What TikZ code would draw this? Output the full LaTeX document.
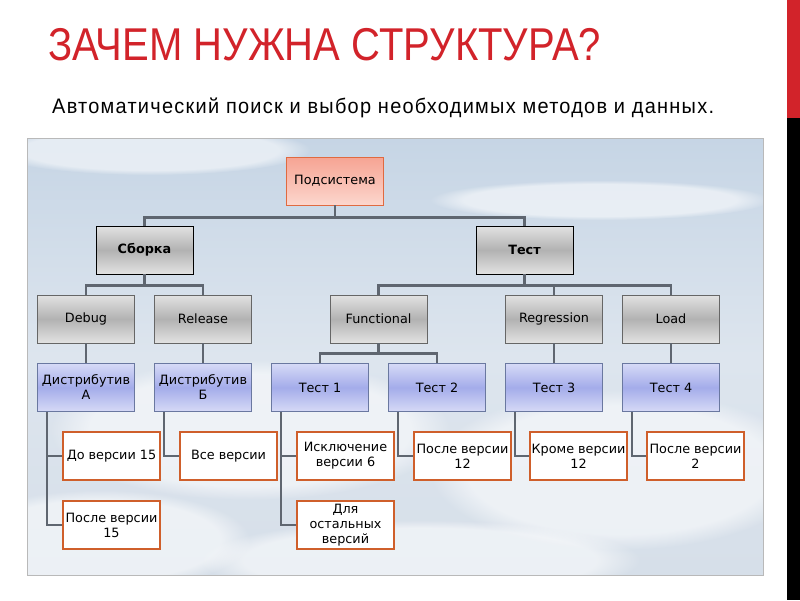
\documentclass[tikz,border=0pt]{standalone}
\usepackage{fontspec}
\setmainfont{Liberation Sans}
\newfontfamily\boxfont{DejaVu Sans}
\newfontfamily\titlefont[FakeStretch=0.87]{Liberation Sans}
\newfontfamily\subfont[FakeStretch=0.95,LetterSpace=6]{Liberation Sans}
\usetikzlibrary{fadings}
\definecolor{titlered}{HTML}{D2232A}
\definecolor{connline}{HTML}{5F6670}
\definecolor{grayhi}{HTML}{E2E2E2}
\definecolor{graylo}{HTML}{B2B2B2}
\definecolor{bluehi}{HTML}{D6DAF6}
\definecolor{bluelo}{HTML}{A4ACEA}
\definecolor{blueline}{HTML}{6A78A0}
\definecolor{pinkhi}{HTML}{F6A493}
\definecolor{pinklo}{HTML}{FCD6CD}
\definecolor{pinkline}{HTML}{E06A40}
\definecolor{leafline}{HTML}{CF5F2B}
\definecolor{skytop}{HTML}{C6D5E5}
\definecolor{skymid}{HTML}{DDE5EE}
\definecolor{skybot}{HTML}{D6DFE9}
\begin{document}
\begin{tikzpicture}[x=1pt,y=-1pt,
    box/.style={minimum width=97pt, minimum height=48pt, inner sep=1pt, align=center,
      font=\boxfont\fontsize{12.8}{15}\selectfont},
    sysbox/.style={box, draw=pinkline, line width=0.8pt, top color=pinkhi, bottom color=pinklo},
    partbox/.style={box, draw=black, line width=0.9pt, top color=grayhi, bottom color=grayhi,
      middle color=graylo, font=\boxfont\bfseries\fontsize{12.8}{15}\selectfont},
    kindbox/.style={box, draw=gray!80!black, line width=0.7pt, top color=grayhi, bottom color=grayhi,
      middle color=graylo},
    itembox/.style={box, draw=blueline, line width=0.7pt, top color=bluehi, bottom color=bluehi,
      middle color=bluelo},
    leafbox/.style={box, draw=leafline, line width=2.5pt, fill=white},
    conn/.style={draw=connline, line width=2.5pt}]
  \useasboundingbox (0,0) rectangle (800,600);
  \fill[white] (0,0) rectangle (800,600);
  % sky
  \fill[top color=skytop, bottom color=skybot, middle color=skymid] (27,138) rectangle (763,575);
  \begin{scope}
    \clip (27,138) rectangle (763,575);
    \foreach \cx/\cy/\rx/\ry in {150/150/160/25, 600/200/170/20, 250/430/200/70, 620/470/190/80, 100/540/150/50, 420/560/220/40}
      \fill[white, opacity=0.55, path fading=circle with fuzzy edge 20 percent] (\cx,\cy) ellipse [x radius=\rx, y radius=\ry];
  \end{scope}
  \draw[gray!55, line width=0.8pt] (27,138) rectangle (763,575);
  % side bar
  \fill[titlered] (787,0) rectangle (800,118);
  \fill[black] (787,118) rectangle (800,600);
  % title
  \node[anchor=base west, inner sep=0, text=titlered, font=\titlefont\fontsize{46}{46}\selectfont] (title) at (48,60) {ЗАЧЕМ НУЖНА СТРУКТУРА?};
  \node[anchor=base west, inner sep=0, font=\subfont\fontsize{21}{21}\selectfont] (subtitle) at (52,113) {Автоматический поиск и выбор необходимых методов и данных.};
  % tree
  \node[sysbox] (sys) at (335,181) {Подсистема};
  \node[partbox] (build) at (144.5,250) {Сборка};
  \node[partbox] (test) at (524.5,250) {Тест};
  \foreach \n/\x/\t in {debug/86/Debug, release/203/Release, func/378.5/Functional, regr/554/Regression, load/671/Load}
    \node[kindbox] (\n) at (\x,319) {\t};
  \foreach \n/\x/\t in {distA/86/Дистрибутив\\А, distB/203/Дистрибутив\\Б, t1/320/Тест 1, t2/437/Тест 2, t3/554/Тест 3, t4/671/Тест 4}
    \node[itembox] (\n) at (\x,387.5) {\t};
  \foreach \n/\x/\y/\t in {v1/111.5/456/До версии 15, v2/111.5/525/После версии\\15, v3/228.5/456/Все версии,
      v4/345.5/456/Исключение\\версии 6, v5/345.5/525/Для\\остальных\\версий, v6/462.5/456/После версии\\12,
      v7/578.5/456/Кроме версии\\12, v8/695.5/456/После версии\\2}
    \node[leafbox] (\n) at (\x,\y) {\t};
  % links
  \foreach \n in {build,test}
    \draw[conn] (sys.south) -- ++(0,12) -| (\n.north);
  \foreach \n in {debug,release}
    \draw[conn] (build.south) -- ++(0,11) -| (\n.north);
  \foreach \n in {func,regr,load}
    \draw[conn] (test.south) -- ++(0,11) -| (\n.north);
  \foreach \n in {t1,t2}
    \draw[conn] (func.south) -- ++(0,10) -| (\n.north);
  \foreach \a/\b in {debug/distA, release/distB, regr/t3, load/t4}
    \draw[conn] (\a.south) -- (\b.north);
  \foreach \p/\c in {distA/v1, distA/v2, distB/v3, t1/v4, t1/v5, t2/v6, t3/v7, t4/v8}
    \draw[conn] ([xshift=10pt]\p.south west) |- (\c.west);
\end{tikzpicture}
\end{document}
